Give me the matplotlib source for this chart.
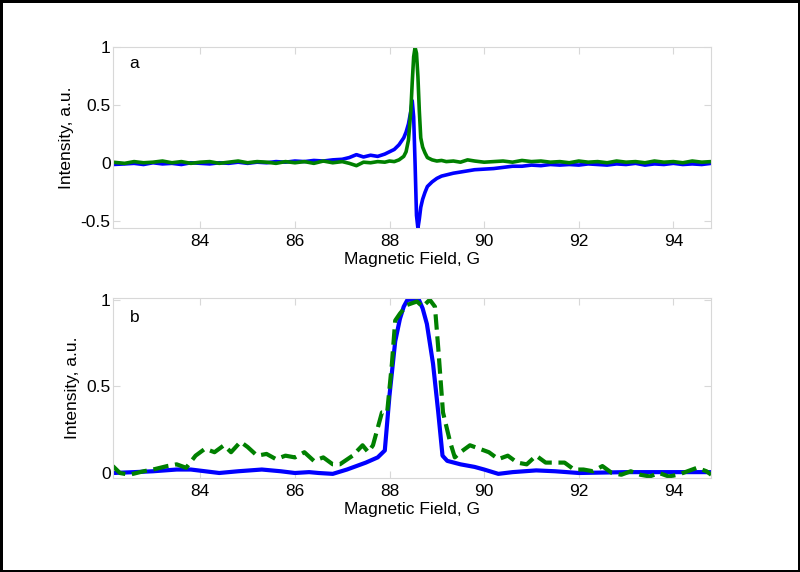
import matplotlib
matplotlib.use("Agg")
import matplotlib.pyplot as plt

plt.rcParams['font.family'] = ['Liberation Sans', 'DejaVu Sans']

# --- panel a: raw spectra ---
field_a = [82.15, 82.4, 82.6, 82.8, 83.0, 83.2, 83.4, 83.6, 83.8, 84.0,
           84.2, 84.4, 84.6, 84.8, 85.0, 85.2, 85.4, 85.6, 85.8, 86.0,
           86.2, 86.4, 86.6, 86.8, 87.0, 87.15, 87.3, 87.45, 87.6, 87.75,
           87.9, 88.0, 88.1, 88.2, 88.3, 88.35, 88.4, 88.45, 88.48, 88.51,
           88.54, 88.57, 88.6, 88.63, 88.66, 88.7, 88.75, 88.8, 88.9, 89.0,
           89.1, 89.2, 89.35, 89.5, 89.65, 89.8, 90.0, 90.2, 90.4, 90.6,
           90.8, 91.0, 91.2, 91.4, 91.6, 91.8, 92.0, 92.2, 92.4, 92.6,
           92.8, 93.0, 93.2, 93.4, 93.6, 93.8, 94.0, 94.2, 94.4, 94.6, 94.8]
blue_a = [-0.01, -0.005, 0.0, -0.01, 0.005, -0.005, 0.0, -0.01, 0.005, 0.0,
          -0.005, 0.005, 0.0, 0.01, 0.0, 0.01, 0.005, 0.015, 0.01, 0.02,
          0.015, 0.025, 0.02, 0.03, 0.035, 0.05, 0.075, 0.055, 0.07, 0.06,
          0.08, 0.1, 0.12, 0.16, 0.22, 0.27, 0.34, 0.45, 0.54, 0.4,
          0.0, -0.45, -0.56, -0.48, -0.38, -0.31, -0.25, -0.2, -0.16, -0.13,
          -0.11, -0.1, -0.085, -0.075, -0.065, -0.055, -0.05, -0.045, -0.035, -0.025,
          -0.025, -0.015, -0.02, -0.01, -0.015, -0.01, -0.015, -0.005, -0.01, -0.015,
          -0.005, -0.01, 0.0, -0.015, -0.005, -0.01, 0.0, -0.01, -0.005, -0.01, 0.0]
green_a = [0.01, 0.0, 0.015, 0.005, 0.01, 0.02, 0.005, 0.015, 0.0, 0.01,
           0.015, 0.0, 0.01, 0.02, 0.005, 0.015, 0.01, 0.0, 0.015, 0.005,
           0.015, 0.0, 0.02, 0.005, 0.015, 0.0, -0.02, 0.01, 0.005, 0.015,
           0.01, 0.02, 0.015, 0.03, 0.06, 0.1, 0.2, 0.45, 0.7, 0.92,
           1.0, 0.95, 0.75, 0.45, 0.22, 0.14, 0.09, 0.05, 0.03, 0.02,
           0.025, 0.015, 0.02, 0.01, 0.03, 0.02, 0.01, 0.015, 0.02, 0.01,
           0.025, 0.015, 0.02, 0.01, 0.015, 0.005, 0.02, 0.01, 0.015, 0.005,
           0.02, 0.01, 0.015, 0.005, 0.02, 0.01, 0.015, 0.005, 0.02, 0.01, 0.015]

# --- panel b: processed spectra ---
field_b_blue = [82.15, 82.6, 83.0, 83.5, 83.8, 84.1, 84.4, 84.8, 85.3, 85.7,
                86.0, 86.3, 86.5, 86.8, 87.1, 87.5, 87.75, 87.9, 88.0, 88.12,
                88.22, 88.3, 88.38, 88.62, 88.7, 88.79, 88.92, 89.03, 89.12, 89.22,
                89.5, 89.8, 90.0, 90.3, 90.6, 91.1, 91.5, 92.0, 93.0, 94.0,
                94.8]
blue_b = [0.0, 0.005, 0.01, 0.02, 0.02, 0.01, 0.0, 0.01, 0.02, 0.01,
          0.0, 0.005, 0.0, -0.005, 0.02, 0.06, 0.09, 0.13, 0.45, 0.76,
          0.89, 0.96, 1.0, 1.0, 0.95, 0.86, 0.63, 0.35, 0.1, 0.07,
          0.05, 0.035, 0.02, -0.005, 0.005, 0.015, 0.01, 0.0, 0.005, 0.005,
          0.005]

field_b_green = [82.15, 82.3, 82.5, 82.8, 83.0, 83.3, 83.5, 83.7, 83.9, 84.1,
                 84.3, 84.5, 84.65, 84.85, 85.0, 85.2, 85.4, 85.6, 85.8, 86.0,
                 86.2, 86.4, 86.6, 86.8, 86.95, 87.22, 87.43, 87.55, 87.65, 87.84,
                 87.95, 88.05, 88.12, 88.22, 88.37, 88.58, 88.7, 88.85, 88.96, 89.03,
                 89.13, 89.28, 89.38, 89.5, 89.7, 89.9, 90.1, 90.3, 90.5, 90.7,
                 90.9, 91.1, 91.3, 91.5, 91.7, 91.9, 92.1, 92.3, 92.5, 92.7,
                 92.9, 93.1, 93.3, 93.5, 93.7, 93.9, 94.1, 94.3, 94.5, 94.7, 94.8]
green_b = [0.04, 0.0, -0.01, 0.01, 0.02, 0.04, 0.05, 0.03, 0.1, 0.14,
           0.12, 0.16, 0.12, 0.18, 0.15, 0.1, 0.11, 0.08, 0.1, 0.09,
           0.12, 0.07, 0.09, 0.05, 0.05, 0.1, 0.16, 0.12, 0.16, 0.35,
           0.35, 0.63, 0.88, 0.92, 0.97, 0.99, 0.96, 1.0, 0.96, 0.72,
           0.35, 0.18, 0.09, 0.12, 0.16, 0.14, 0.12, 0.08, 0.1, 0.06,
           0.05, 0.1, 0.06, 0.06, 0.06, 0.02, 0.02, 0.01, 0.04, 0.0,
           -0.01, 0.01, -0.01, -0.02, 0.0, -0.02, -0.01, 0.01, 0.03, 0.01, -0.01]

x_ticks = [84, 86, 88, 90, 92, 94]
blue = (0, 0, 1)
green = (0, 0.5, 0)
light = '#d8d8d8'

fig = plt.figure(figsize=(8, 5.72), dpi=100, edgecolor='black', linewidth=2.2)
ax_a = fig.add_axes([0.141, 0.601, 0.748, 0.316])
ax_b = fig.add_axes([0.141, 0.164, 0.748, 0.315])

ax_a.plot(field_a, blue_a, color=blue, lw=2.6)
ax_a.plot(field_a, green_a, color=green, lw=2.6)
ax_a.set_ylim(-0.56, 1.0)
ax_a.set_yticks([-0.5, 0, 0.5, 1])
ax_a.set_yticklabels(['-0.5', '0', '0.5', '1'])
ax_a.text(0.028, 0.91, 'a', transform=ax_a.transAxes, fontsize=12.5, va='center')

ax_b.plot(field_b_blue, blue_b, color=blue, lw=3)
ax_b.plot(field_b_green, green_b, color=green, lw=3, ls='--')
ax_b.set_ylim(-0.03, 1.01)
ax_b.set_yticks([0, 0.5, 1])
ax_b.set_yticklabels(['0', '0.5', '1'])
ax_b.text(0.028, 0.89, 'b', transform=ax_b.transAxes, fontsize=12.5, va='center')

for ax in (ax_a, ax_b):
    ax.set_xlim(82.15, 94.8)
    ax.set_xticks(x_ticks)
    ax.set_xticklabels([str(t) for t in x_ticks])
    ax.tick_params(direction='in', length=5, color=light, labelsize=12.5,
                   top=True, right=True)
    ax.tick_params(axis='y', pad=1.5)
    ax.tick_params(axis='x', pad=4)
    for s in ax.spines.values():
        s.set_color(light)
        s.set_linewidth(0.8)
    ax.set_xlabel('Magnetic Field, G', fontsize=12.5, labelpad=2)
    ax.set_ylabel('Intensity, a.u.', fontsize=12.5, labelpad=5)

fig.savefig('out.png', dpi=100, edgecolor=fig.get_edgecolor())
